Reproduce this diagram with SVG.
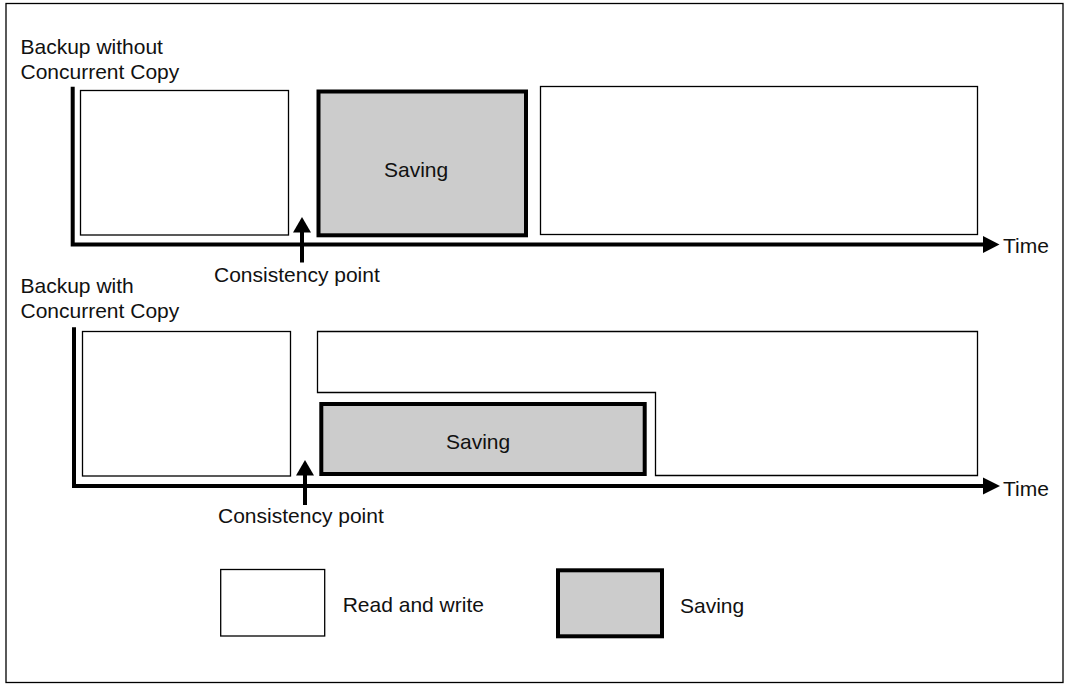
<svg xmlns="http://www.w3.org/2000/svg" width="1067" height="684" viewBox="0 0 1067 684">
  <style>
    .t { font-family: "Liberation Sans", Arial, sans-serif; font-size: 21px; fill: #111; }
    .rw { fill: #fff; stroke: #000; stroke-width: 1.3; }
    .sv { fill: #cccccc; stroke: #000; stroke-width: 4; }
    .ax { fill: none; stroke: #000; stroke-width: 4; }
    .head { fill: #000; stroke: none; }
  </style>
  <rect x="0" y="0" width="1067" height="684" fill="#fff"/>
  <rect id="frame" x="6" y="3.5" width="1057" height="679" fill="none" stroke="#000" stroke-width="1.3"/>

  <g id="label-without">
    <text class="t" x="20.5" y="54">Backup without</text>
    <text class="t" x="20.5" y="79">Concurrent Copy</text>
  </g>
  <g id="label-with">
    <text class="t" x="20.5" y="293">Backup with</text>
    <text class="t" x="20.5" y="318">Concurrent Copy</text>
  </g>

  <!-- top row nodes -->
  <g id="top-rw1"><rect class="rw" x="80.5" y="90.5" width="208" height="144.5"/></g>
  <g id="top-saving">
    <rect class="sv" x="318.5" y="91.5" width="207.5" height="143.8"/>
    <text class="t" x="384" y="176.5">Saving</text>
  </g>
  <g id="top-rw2"><rect class="rw" x="540.5" y="86.5" width="437" height="148"/></g>

  <!-- bottom row nodes -->
  <g id="bot-rw1"><rect class="rw" x="82.5" y="331.5" width="208" height="144.5"/></g>
  <g id="bot-rw2"><path class="rw" d="M317.5,331.5 H977.5 V475.5 H655.5 V392.5 H317.5 Z"/></g>
  <g id="bot-saving">
    <rect class="sv" x="321.3" y="404" width="323.4" height="70"/>
    <text class="t" x="446" y="448.5">Saving</text>
  </g>

  <!-- connectors / axes -->
  <g id="connectors">
    <path class="ax" d="M72.7,86.7 V244.5 H984"/>
    <polygon class="head" points="983,236 999.5,244.5 983,253"/>
    <path class="ax" d="M302,231 V262.5"/>
    <polygon class="head" points="293,232.5 302,217 311,232.5"/>

    <path class="ax" d="M74,327.3 V486 H984"/>
    <polygon class="head" points="983,477.5 1000,486 983,494.5"/>
    <path class="ax" d="M305,474 V505"/>
    <polygon class="head" points="296,475.5 305,460 314,475.5"/>
  </g>

  <g id="axis-labels">
    <text class="t" x="1003" y="253.3">Time</text>
    <text class="t" x="1003" y="495.7">Time</text>
    <text class="t" x="214" y="281.5">Consistency point</text>
    <text class="t" x="218" y="523.3">Consistency point</text>
  </g>

  <!-- legend -->
  <g id="legend-rw">
    <rect class="rw" x="220.7" y="569.5" width="104" height="66.5"/>
    <text class="t" x="342.7" y="612.3">Read and write</text>
  </g>
  <g id="legend-saving">
    <rect class="sv" x="558" y="570.3" width="104" height="66"/>
    <text class="t" x="680" y="613.3">Saving</text>
  </g>
</svg>
